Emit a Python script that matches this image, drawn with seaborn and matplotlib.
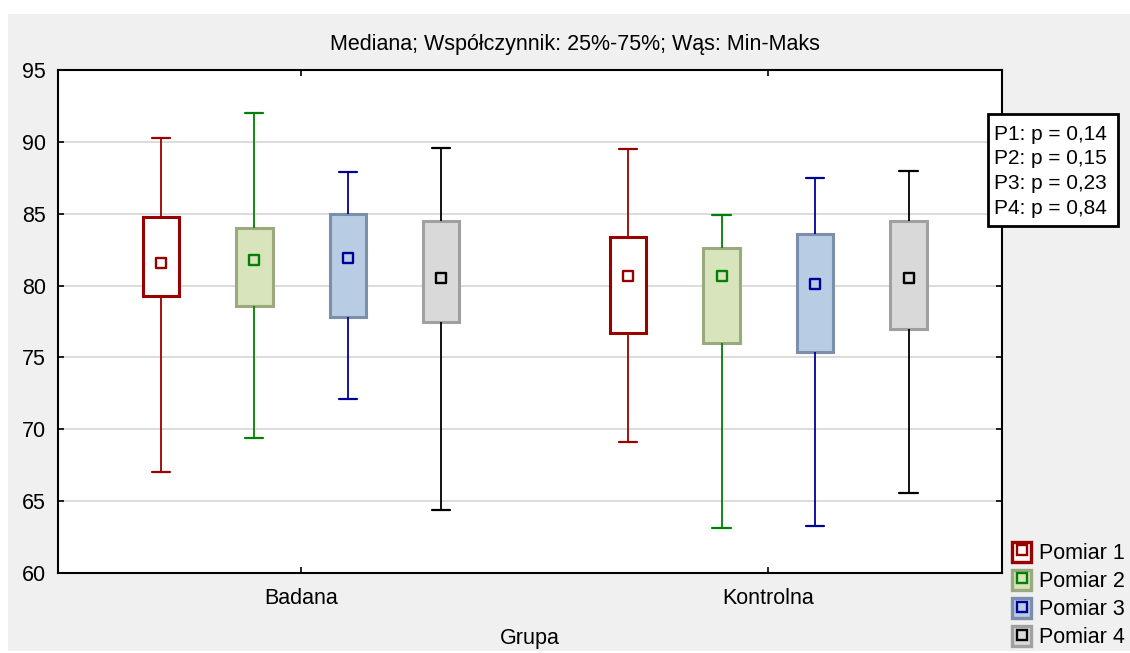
import pandas as pd
import matplotlib
matplotlib.use('Agg')
import matplotlib.pyplot as plt
import seaborn as sns
from matplotlib.patches import Patch, Rectangle
from matplotlib.lines import Line2D

# Data: one inner list per Pomiar, values for [Badana, Kontrolna]
grupy = ['Badana', 'Kontrolna']
pomiary = ['Pomiar 1', 'Pomiar 2', 'Pomiar 3', 'Pomiar 4']

min_vals = [[67.0, 69.1], [69.4, 63.1], [72.1, 63.3], [64.4, 65.6]]
q1_vals = [[79.3, 76.7], [78.6, 76.0], [77.8, 75.4], [77.5, 77.0]]
med_vals = [[81.6, 80.7], [81.8, 80.7], [81.9, 80.1], [80.5, 80.5]]
q3_vals = [[84.8, 83.4], [84.0, 82.6], [85.0, 83.6], [84.5, 84.5]]
max_vals = [[90.3, 89.5], [92.0, 84.9], [87.9, 87.5], [89.6, 88.0]]

p_labels = ['P1', 'P2', 'P3', 'P4']
p_values = ['0,14', '0,15', '0,23', '0,84']

title = 'Mediana; Współczynnik: 25%-75%; Wąs: Min-Maks'

# Colours (STATISTICA look)
line_colors = ['#990000', '#008000', '#000099', '#000000']
fill_colors = ['#FFFFFF', '#D8E4BC', '#B8CCE4', '#D9D9D9']
edge_colors = ['#990000', '#9AAA7E', '#7B8FAA', '#A0A0A0']

# Five points per box -> linear percentiles give exactly min/Q1/median/Q3/max
rows = []
med_rows = []
for i, pom in enumerate(pomiary):
    for j, gr in enumerate(grupy):
        for v in (min_vals[i][j], q1_vals[i][j], med_vals[i][j], q3_vals[i][j], max_vals[i][j]):
            rows.append({'Grupa': gr, 'Pomiar': pom, 'Wartosc': v})
        med_rows.append({'Grupa': gr, 'Pomiar': pom, 'Mediana': med_vals[i][j]})
df = pd.DataFrame(rows)
df_med = pd.DataFrame(med_rows)

sns.set_style('ticks')
plt.rcParams['font.family'] = ['Liberation Sans', 'DejaVu Sans']
plt.rcParams['text.color'] = 'black'
plt.rcParams['axes.labelcolor'] = 'black'
FS = 15.5

fig = plt.figure(figsize=(11.3, 6.53), dpi=100, facecolor='white')
fig.add_artist(Rectangle((8 / 1130, 1 - 651 / 653), 1 - 8 / 1130, 637 / 653,
                         transform=fig.transFigure, facecolor='#F0F0F0',
                         edgecolor='none', zorder=0))
ax = fig.add_axes([58 / 1130, 1 - 573 / 653, (1002 - 58) / 1130, (573 - 70) / 653])
ax.set_facecolor('white')

palette = dict(zip(pomiary, fill_colors))
for i, pom in enumerate(pomiary):
    sub = df[df['Pomiar'] == pom]
    sns.boxplot(data=sub, x='Grupa', y='Wartosc', hue='Pomiar', dodge=True,
                order=grupy, hue_order=pomiary, palette=palette, saturation=1,
                whis=(0, 100), width=0.8, gap=0.61, showfliers=False,
                linecolor=edge_colors[i], linewidth=2,
                boxprops=dict(edgecolor=edge_colors[i], linewidth=2.2),
                whiskerprops=dict(color=line_colors[i], linewidth=1.3),
                capprops=dict(color=line_colors[i], linewidth=1.6),
                medianprops=dict(linewidth=0),
                legend=False, ax=ax)

    # median marker: small square in the box colour
    n_before = len(ax.collections)
    sns.stripplot(data=df_med[df_med['Pomiar'] == pom], x='Grupa', y='Mediana',
                  hue='Pomiar', order=grupy, hue_order=pomiary, palette=palette,
                  dodge=True, jitter=False, marker='s', size=6.8, linewidth=1.7,
                  legend=False, ax=ax, zorder=5)
    for coll in ax.collections[n_before:]:
        coll.set_facecolor(fill_colors[i])
        coll.set_edgecolor(line_colors[i])

ax.set_xlim(-0.52, 1.5)
ax.set_ylim(60, 95)
ax.set_yticks(range(60, 96, 5))
ax.grid(axis='y', color='#D9D9D9', linewidth=1.3)
ax.grid(axis='x', visible=False)
ax.set_axisbelow(True)
for sp in ax.spines.values():
    sp.set_visible(True)
    sp.set_color('black')
    sp.set_linewidth(1.5)
ax.tick_params(axis='both', direction='in', top=True, right=True, length=4,
               width=1.2, labelsize=FS, colors='black')
ax.tick_params(axis='y', pad=8.5)
ax.tick_params(axis='x', pad=10.5)
ax.set_ylabel('')
ax.set_xlabel('Grupa', fontsize=FS, labelpad=14)

fig.text(575 / 1130, 1 - 50 / 653, title, ha='center', va='baseline', fontsize=FS)

# p-value box
fig.add_artist(Rectangle((988 / 1130, 1 - 226 / 653), 130 / 1130, 112 / 653,
                         transform=fig.transFigure, facecolor='white',
                         edgecolor='black', linewidth=2, zorder=3))
for k, (lab, pv) in enumerate(zip(p_labels, p_values)):
    fig.text(994 / 1130, 1 - (139.5 + 25 * k) / 653, f'{lab}: p = {pv}',
             ha='left', va='baseline', fontsize=FS - 0.5, zorder=4)

# legend
handles = []
for i, pom in enumerate(pomiary):
    box = Patch(facecolor=fill_colors[i], edgecolor=edge_colors[i], linewidth=2.4)
    mark = Line2D([], [], linestyle='', marker='s', markersize=6.5,
                  markerfacecolor=fill_colors[i], markeredgecolor=line_colors[i],
                  markeredgewidth=1.7)
    handles.append((box, mark))
fig.legend(handles, pomiary, loc='center left', bbox_to_anchor=(1012 / 1130, 1 - 595 / 653),
           frameon=False, fontsize=FS, borderpad=0, borderaxespad=0,
           handlelength=0.9, handleheight=1.1, handletextpad=0.35,
           labelspacing=0.25)

fig.savefig('out.png', dpi=100, facecolor='white')
